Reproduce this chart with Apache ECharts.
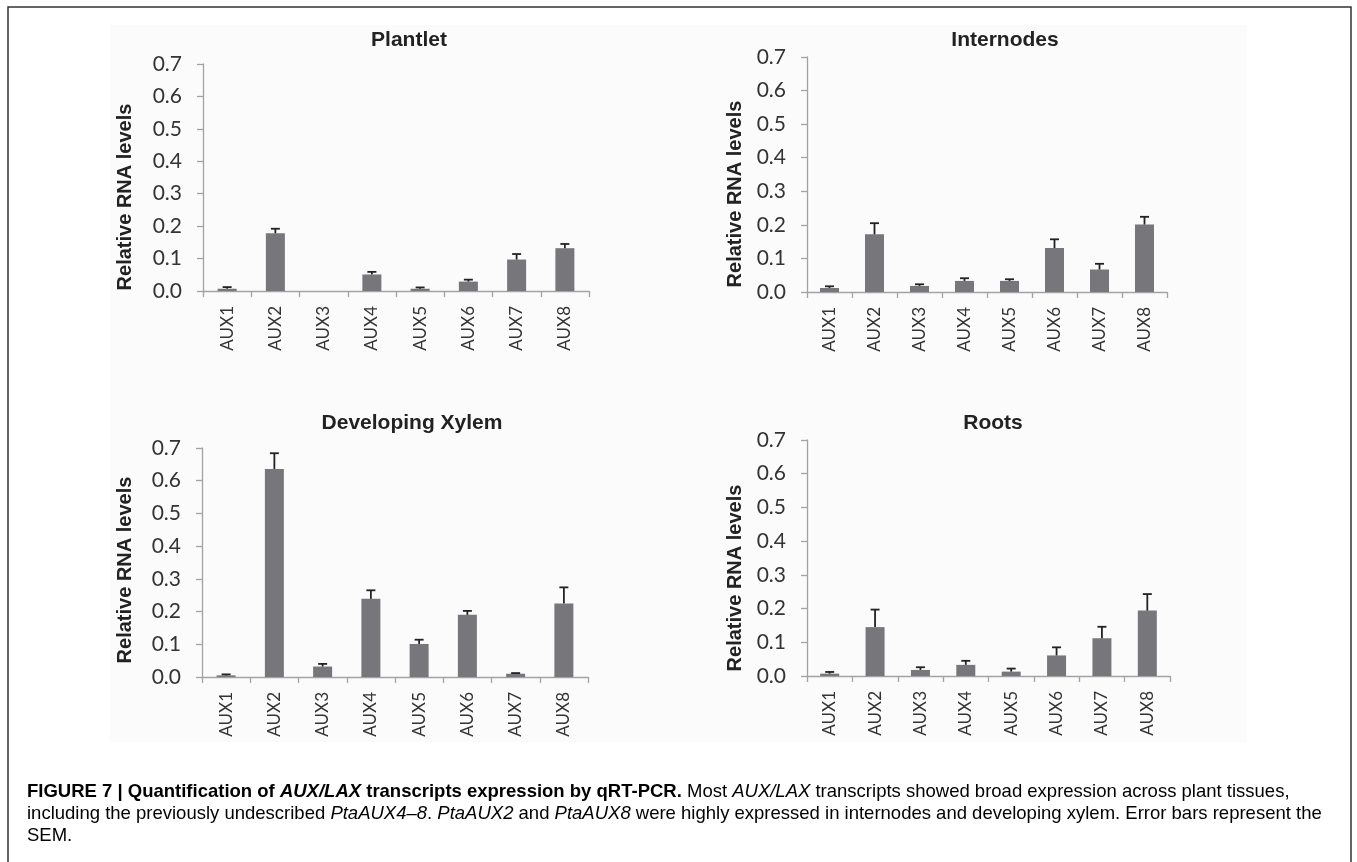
<!DOCTYPE html>
<html>
<head>
<meta charset="utf-8">
<script src="https://cdn.jsdelivr.net/npm/echarts@6/dist/echarts.min.js"></script>
<style>
  html, body { margin: 0; padding: 0; background: #fff; }
  #chart { width: 1357px; height: 862px; }
</style>
</head>
<body>
<div id="chart"></div>
<script>
// Gene names on every x axis
const categories = ['AUX1', 'AUX2', 'AUX3', 'AUX4', 'AUX5', 'AUX6', 'AUX7', 'AUX8'];
// Y axis tick values
const yTicks = [0, 0.1, 0.2, 0.3, 0.4, 0.5, 0.6, 0.7];

// Mean relative RNA level and SEM for each tissue
const plantletMean = [0.007, 0.178, 0.0, 0.051, 0.007, 0.029, 0.097, 0.132];
const plantletSem  = [0.005, 0.014, 0.0, 0.008, 0.004, 0.006, 0.017, 0.013];

const internodesMean = [0.012, 0.172, 0.018, 0.033, 0.033, 0.131, 0.067, 0.201];
const internodesSem  = [0.005, 0.033, 0.005, 0.008, 0.005, 0.026, 0.017, 0.023];

const xylemMean = [0.005, 0.636, 0.032, 0.239, 0.101, 0.190, 0.010, 0.225];
const xylemSem  = [0.003, 0.048, 0.008, 0.026, 0.013, 0.012, 0.002, 0.049];

const rootsMean = [0.007, 0.145, 0.018, 0.033, 0.013, 0.061, 0.112, 0.194];
const rootsSem  = [0.005, 0.052, 0.008, 0.012, 0.009, 0.024, 0.034, 0.049];

const panelTitles = ['Plantlet', 'Internodes', 'Developing Xylem', 'Roots'];
const yAxisName = 'Relative RNA levels';

const panels = [
  { mean: plantletMean,   sem: plantletSem,   grid: { left: 203, top: 64,  width: 386, height: 227 }, title: [409, 40],  name: [125, 197] },
  { mean: internodesMean, sem: internodesSem, grid: { left: 807, top: 57,  width: 360, height: 235 }, title: [1005, 40], name: [735, 194] },
  { mean: xylemMean,      sem: xylemSem,      grid: { left: 202, top: 448, width: 386, height: 229 }, title: [412, 423], name: [125, 570] },
  { mean: rootsMean,      sem: rootsSem,      grid: { left: 807, top: 440, width: 363, height: 236 }, title: [993, 423], name: [735, 578] }
];

const axisGray = '#a3a3a3';
const barGray = '#77777b';
const labelFont = 'Lato, "Open Sans", sans-serif';
const boldFont = '"Liberation Sans", Arial, sans-serif';

const grids = [], xAxes = [], yAxes = [], series = [], graphics = [];

// Faint figure panel behind the four charts
graphics.push({
  type: 'rect', silent: true, z: -10,
  shape: { x: 110, y: 25, width: 1137, height: 717 },
  style: { fill: '#fbfbfb' }
});
// Frame around the figure
graphics.push({
  type: 'rect', silent: true, z: 100,
  shape: { x: 8, y: 7, width: 1343, height: 900 },
  style: { fill: 'none', stroke: '#333', lineWidth: 1.5 }
});

panels.forEach((p, k) => {
  grids.push(Object.assign({ containLabel: false }, p.grid));
  xAxes.push({
    type: 'category', gridIndex: k, data: categories, boundaryGap: true,
    axisLine: { lineStyle: { color: axisGray, width: 1.3 } },
    axisTick: { show: true, length: 6, lineStyle: { color: axisGray, width: 1.3 } },
    axisLabel: { rotate: 90, margin: 15, color: '#333', fontSize: 17, fontFamily: labelFont, interval: 0 },
    splitLine: { show: false }
  });
  yAxes.push({
    type: 'value', gridIndex: k, min: 0, max: 0.7, interval: 0.1,
    axisLine: { show: true, lineStyle: { color: axisGray, width: 1.3 } },
    axisTick: { show: true, length: 6, lineStyle: { color: axisGray, width: 1.3 } },
    axisLabel: { margin: 21, color: '#333', fontSize: 21, fontFamily: labelFont,
                 formatter: v => v.toFixed(1) },
    splitLine: { show: false }
  });
  series.push({
    type: 'bar', xAxisIndex: k, yAxisIndex: k, data: p.mean,
    barWidth: 19, itemStyle: { color: barGray }, silent: true
  });
  // Upper error bars: mean to mean + SEM, with a short cap
  series.push({
    type: 'custom', xAxisIndex: k, yAxisIndex: k, silent: true, z: 5,
    data: p.mean.map((m, i) => [i, m, p.sem[i]]),
    renderItem: (params, api) => {
      const i = api.value(0), m = api.value(1), s = api.value(2);
      if (!s) return null;
      const base = api.coord([i, m]);
      const top = api.coord([i, m + s]);
      const half = 4.5;
      const st = { stroke: '#222', lineWidth: 1.8 };
      return {
        type: 'group',
        children: [
          { type: 'line', shape: { x1: base[0], y1: base[1], x2: top[0], y2: top[1] }, style: st },
          { type: 'line', shape: { x1: top[0] - half, y1: top[1], x2: top[0] + half, y2: top[1] }, style: st }
        ]
      };
    }
  });
  graphics.push({
    type: 'text', x: p.title[0], y: p.title[1],
    style: { text: panelTitles[k], font: 'bold 21px ' + boldFont, fill: '#222',
             align: 'center', verticalAlign: 'middle' }
  });
  graphics.push({
    type: 'text', x: p.name[0], y: p.name[1], rotation: Math.PI / 2,
    style: { text: yAxisName, font: 'bold 20px ' + boldFont, fill: '#222',
             align: 'center', verticalAlign: 'middle' }
  });
});

// Figure caption
const capSize = 18.5;
const captionRich = {
  b:  { fontFamily: boldFont, fontSize: capSize, fontWeight: 'bold', color: '#1a1a1a' },
  bi: { fontFamily: boldFont, fontSize: capSize, fontWeight: 'bold', fontStyle: 'italic', color: '#1a1a1a' },
  r:  { fontFamily: boldFont, fontSize: capSize, color: '#333' },
  i:  { fontFamily: boldFont, fontSize: capSize, fontStyle: 'italic', color: '#333' }
};
const captionLines = [
  '{b|FIGURE 7 | Quantification of }{bi|AUX/LAX}{b| transcripts expression by qRT-PCR.}{r| Most }{i|AUX/LAX}{r| transcripts showed broad expression across plant tissues,}',
  '{r|including the previously undescribed }{i|PtaAUX4–8}{r|. }{i|PtaAUX2}{r| and }{i|PtaAUX8}{r| were highly expressed in internodes and developing xylem. Error bars represent the}',
  '{r|SEM.}'
];
captionLines.forEach((t, j) => {
  graphics.push({
    type: 'text', x: 27, y: 792 + j * 22,
    style: { text: t, rich: captionRich, verticalAlign: 'middle', align: 'left' }
  });
});

const chart = echarts.init(document.getElementById('chart'), null, { renderer: 'canvas' });
chart.setOption({
  backgroundColor: '#fff',
  animation: false,
  grid: grids,
  xAxis: xAxes,
  yAxis: yAxes,
  series: series,
  graphic: graphics
});
</script>
</body>
</html>
